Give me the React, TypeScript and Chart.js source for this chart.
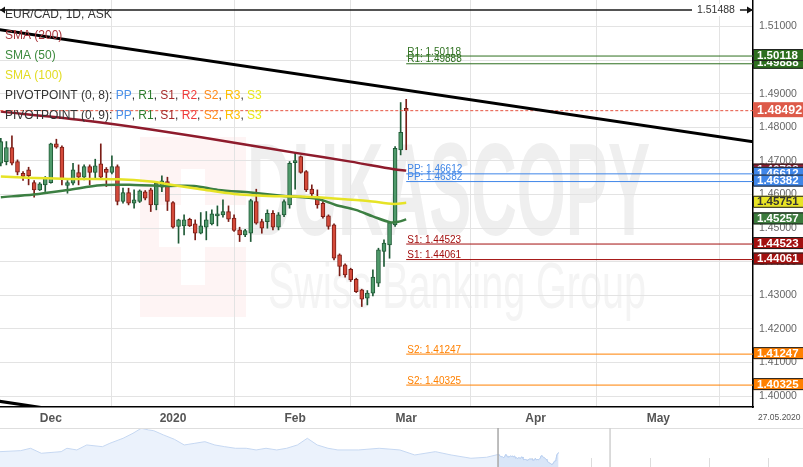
import React, { useEffect, useRef } from 'react';
import { Chart, registerables } from 'chart.js';
Chart.register(...registerables);

const FONT = '"Liberation Sans", Arial, sans-serif';

// ---- Daily candles (index 0 = 19 Nov 2019, index 73 = 2 Mar 2020)
const openPrices = [
  1.46928, 1.46978, 1.47395, 1.46978, 1.46631, 1.46730, 1.46353, 1.46135, 1.46284, 1.46353,
  1.47504, 1.47405, 1.46264, 1.46333, 1.46651, 1.46512, 1.46829, 1.46651, 1.46909, 1.46750,
  1.46651, 1.46829, 1.45788, 1.46056, 1.45738, 1.45788, 1.46076, 1.46135, 1.45688, 1.46214,
  1.46383, 1.45758, 1.45044, 1.45063, 1.45262, 1.45123, 1.44845, 1.45024, 1.45123, 1.45361,
  1.45391, 1.45490, 1.45292, 1.44944, 1.44796, 1.44845, 1.45788, 1.45192, 1.45192, 1.45440,
  1.45024, 1.45391, 1.45688, 1.46948, 1.47127, 1.46680, 1.46155, 1.45936, 1.45738, 1.45361,
  1.45093, 1.44200, 1.43903, 1.43774, 1.43476, 1.43159, 1.42911, 1.43060, 1.43357, 1.44300,
  1.44498, 1.45093, 1.47325, 1.48565,
];
const highPrices = [
  1.47672, 1.47573, 1.47742, 1.47028, 1.46680, 1.46809, 1.46413, 1.46353, 1.46532, 1.47524,
  1.47643, 1.47444, 1.46413, 1.46928, 1.46879, 1.46879, 1.46879, 1.47048, 1.47504, 1.46799,
  1.47147, 1.46879, 1.46185, 1.46185, 1.46135, 1.46135, 1.46115, 1.46185, 1.46383, 1.46552,
  1.46512, 1.45788, 1.45262, 1.45391, 1.45292, 1.45242, 1.45460, 1.45490, 1.45540, 1.45659,
  1.45837, 1.45659, 1.45391, 1.45024, 1.44964, 1.45857, 1.46155, 1.45262, 1.45540, 1.45520,
  1.45460, 1.45837, 1.46978, 1.47246, 1.47147, 1.46710, 1.46284, 1.46135, 1.45788, 1.45391,
  1.45123, 1.44230, 1.43933, 1.43804, 1.43506, 1.43179, 1.43139, 1.43754, 1.44399, 1.44647,
  1.45192, 1.47424, 1.48734, 1.48830,
];
const lowPrices = [
  1.46849, 1.46879, 1.46879, 1.46581, 1.46413, 1.46284, 1.45917, 1.46115, 1.46085, 1.46333,
  1.47375, 1.46284, 1.46036, 1.46284, 1.46284, 1.46432, 1.46284, 1.46482, 1.46452, 1.46234,
  1.46611, 1.45688, 1.45738, 1.45688, 1.45589, 1.45758, 1.45837, 1.45490, 1.45540, 1.46085,
  1.45520, 1.44994, 1.44548, 1.44796, 1.45044, 1.44647, 1.44825, 1.44647, 1.45093, 1.45063,
  1.45321, 1.45192, 1.44895, 1.44597, 1.44746, 1.44597, 1.45113, 1.44845, 1.44994, 1.44944,
  1.44944, 1.45341, 1.45589, 1.46155, 1.46631, 1.46085, 1.45887, 1.45589, 1.45292, 1.44964,
  1.44051, 1.43576, 1.43536, 1.43407, 1.43079, 1.42663, 1.42712, 1.42980, 1.43258, 1.43854,
  1.44101, 1.45044, 1.47176, 1.47330,
];
const closePrices = [
  1.47573, 1.47395, 1.46928, 1.46661, 1.46532, 1.46561, 1.46135, 1.46313, 1.46512, 1.47504,
  1.47405, 1.46452, 1.46353, 1.46730, 1.46512, 1.46829, 1.46651, 1.46849, 1.46512, 1.46651,
  1.46829, 1.45788, 1.46056, 1.45738, 1.45837, 1.46105, 1.45887, 1.45688, 1.46333, 1.46403,
  1.45788, 1.45024, 1.45242, 1.45242, 1.45063, 1.44845, 1.45063, 1.45242, 1.45421, 1.45421,
  1.45490, 1.45262, 1.44925, 1.44796, 1.44925, 1.45817, 1.45143, 1.44994, 1.45440, 1.45024,
  1.45391, 1.45788, 1.46928, 1.47008, 1.46651, 1.46135, 1.46016, 1.45688, 1.45341, 1.45044,
  1.44101, 1.43854, 1.43605, 1.43456, 1.43109, 1.42881, 1.43060, 1.43536, 1.44349, 1.44548,
  1.45163, 1.47375, 1.47851, 1.48492,
];

// ---- Moving averages (read at candle positions)
const sma200Idx = [0, 14.4, 27.6, 44.5, 52.8, 63.0, 70.8, 73];
const sma200Val = [1.48464, 1.48217, 1.47920, 1.47473, 1.47244, 1.46976, 1.46750, 1.46708];
const sma100Idx = [0, 5.9, 12.1, 21.1, 27.0, 31.2, 36.0, 42.0, 48.1, 54.0, 60.0, 66.1, 70.8, 73];
const sma100Val = [1.46530, 1.46491, 1.46461, 1.46452, 1.46381, 1.46274, 1.46155, 1.46015, 1.45955, 1.45935, 1.45878, 1.45807, 1.45717, 1.45751];
const sma50Idx = [0, 5.9, 12.1, 18.0, 24.0, 30.1, 34.8, 39.1, 45.0, 51.0, 57.1, 60.3, 63.9, 67.0, 70.2, 71.7, 73];
const sma50Val = [1.45917, 1.46000, 1.46134, 1.46274, 1.46283, 1.46253, 1.46253, 1.46134, 1.46054, 1.45955, 1.45866, 1.45687, 1.45539, 1.45345, 1.45167, 1.45190, 1.45257];

// ---- Pivot points
const pivotStartIdx = 73;
const pivotNames = ['R1', 'R1', 'PP', 'PP', 'S1', 'S1', 'S2', 'S2'];
const pivotValues = [1.50118, 1.49888, 1.46612, 1.46382, 1.44523, 1.44061, 1.41247, 1.40325];

// ---- Drawn objects
const lastPrice = 1.48492;
const horizontalLevel = 1.51488;
const trendIdx = [-1, 140];
const trendUpperVal = [1.50924, 1.47456];
const trendLowerVal = [1.39861, 1.36393];

// ---- Axes
const xMin = -0.15;
const xMax = 135.45;
const yMin = 1.39673;
const yMax = 1.51786;
const priceTicks = [1.40, 1.41, 1.42, 1.43, 1.44, 1.45, 1.46, 1.47, 1.48, 1.49, 1.50, 1.51];
const monthTickIdx = [9, 31, 53, 73, 96.3, 118.4];
const monthLabels = ['Dec', '2020', 'Feb', 'Mar', 'Apr', 'May'];
const endDateLabel = '27.05.2020';
const instrumentLabel = 'EUR/CAD, 1D, ASK';

// ---- Navigator history (trading-day index relative to index 0 above)
const navHistIdx = [-603, -578, -566, -553, -529, -522, -510, -498, -479, -470, -454, -442, -432, -423, -417, -405, -392, -380, -367, -355, -343, -331, -318, -305, -293, -281, -268, -256, -243, -231, -219, -206, -194, -169, -144, -119, -101, -76, -57, -33, -14];
const navHistVal = [1.4890, 1.4937, 1.5049, 1.4815, 1.4890, 1.5049, 1.4970, 1.5204, 1.5124, 1.5284, 1.5518, 1.5753, 1.5987, 1.5907, 1.5875, 1.5673, 1.5471, 1.5204, 1.5284, 1.5359, 1.5204, 1.5124, 1.5049, 1.5049, 1.4970, 1.5049, 1.4970, 1.5049, 1.5204, 1.5518, 1.5204, 1.5049, 1.4970, 1.4970, 1.5049, 1.4970, 1.4735, 1.4890, 1.4735, 1.4580, 1.4627];
const navXMin = -603;
const navXMax = 369;
const navYMin = 1.417;
const navYMax = 1.60;
const navTickIdx = [-530, -459, -387, -316, -245, -173, -102, -30, 41, 112, 184, 255, 327];

const COL = {
  upFill: '#4f9a6b', upLine: '#1f5a36',
  downFill: '#d44a3a', downLine: '#7a1d16',
  sma200: '#8e1b2c', sma50: '#3c7f42', sma100: '#e6e326',
  R1: '#2d6f1e', PP: '#3f86e8', S1: '#a3100f', S2: '#ff8000',
  grid: '#e3e3e3',
};
const pivotColor = (n: string) => (COL as any)[n];

function drawWatermark(ctx: CanvasRenderingContext2D) {
  ctx.save();
  // logo square with cross
  ctx.fillStyle = 'rgba(235,70,70,0.06)';
  ctx.fillRect(140, 137, 106, 180);
  ctx.fillStyle = '#ffffff';
  ctx.fillRect(181, 169, 24, 116);
  ctx.fillRect(159, 205, 87, 42);
  // DUKASCOPY
  ctx.fillStyle = '#efefef';
  ctx.font = `bold 132px ${FONT}`;
  ctx.textBaseline = 'alphabetic';
  const w = ctx.measureText('DUKASCOPY').width;
  ctx.translate(247, 235);
  ctx.scale(403 / w, 1);
  ctx.fillText('DUKASCOPY', 0, 0);
  ctx.restore();
  ctx.save();
  ctx.fillStyle = '#f4f4f4';
  ctx.font = `64px ${FONT}`;
  const w2 = ctx.measureText('Swiss Banking Group').width;
  ctx.translate(268, 308);
  ctx.scale(378 / w2, 1);
  ctx.fillText('Swiss Banking Group', 0, 0);
  ctx.restore();
}

const watermarkPlugin = {
  id: 'watermark',
  beforeDraw(chart: any) {
    drawWatermark(chart.ctx);
  },
};

const overlayPlugin = {
  id: 'overlay',
  afterDraw(chart: any) {
    const ctx: CanvasRenderingContext2D = chart.ctx;
    const xs = chart.scales.x;
    const ys = chart.scales.y;
    const area = chart.chartArea;
    ctx.save();

    // pivot labels
    ctx.font = `10px ${FONT}`;
    ctx.textAlign = 'left';
    ctx.textBaseline = 'alphabetic';
    const px0 = xs.getPixelForValue(pivotStartIdx);
    pivotValues.forEach((v, i) => {
      ctx.fillStyle = pivotColor(pivotNames[i]);
      ctx.fillText(`${pivotNames[i]}: ${v.toFixed(5)}`, px0 + 1, ys.getPixelForValue(v) - 1.5);
    });

    // horizontal level label + arrows
    const hy = ys.getPixelForValue(horizontalLevel);
    ctx.font = `10.5px ${FONT}`;
    const hl = horizontalLevel.toFixed(5);
    const hw = ctx.measureText(hl).width;
    const hx = area.right - 56;
    ctx.fillStyle = '#ffffff';
    ctx.fillRect(hx - 5, hy - 6, hw + 10, 12);
    ctx.fillStyle = '#333';
    ctx.textBaseline = 'middle';
    ctx.fillText(hl, hx, hy + 0.5);
    ctx.fillStyle = '#111';
    ctx.beginPath();
    ctx.moveTo(area.left, hy);
    ctx.lineTo(area.left + 5, hy - 3.5);
    ctx.lineTo(area.left + 5, hy + 3.5);
    ctx.closePath();
    ctx.fill();
    ctx.beginPath();
    ctx.moveTo(area.right, hy);
    ctx.lineTo(area.right - 6, hy - 3.5);
    ctx.lineTo(area.right - 6, hy + 3.5);
    ctx.closePath();
    ctx.fill();

    // right axis value boxes
    const boxes: { v: number; bg: string; fg: string; big?: boolean }[] = [];
    boxes.push({ v: pivotValues[1], bg: COL.R1, fg: '#fff' });
    boxes.push({ v: pivotValues[0], bg: COL.R1, fg: '#fff' });
    boxes.push({ v: lastPrice, bg: '#dd5a49', fg: '#fff', big: true });
    boxes.push({ v: sma200Val[sma200Val.length - 1], bg: COL.sma200, fg: '#fff' });
    boxes.push({ v: pivotValues[2], bg: COL.PP, fg: '#fff' });
    boxes.push({ v: pivotValues[3], bg: COL.PP, fg: '#fff' });
    boxes.push({ v: sma100Val[sma100Val.length - 1], bg: '#e8e425', fg: '#333' });
    boxes.push({ v: sma50Val[sma50Val.length - 1], bg: '#3b7b3c', fg: '#fff' });
    boxes.push({ v: pivotValues[4], bg: COL.S1, fg: '#fff' });
    boxes.push({ v: pivotValues[5], bg: COL.S1, fg: '#fff' });
    boxes.push({ v: pivotValues[6], bg: COL.S2, fg: '#fff' });
    boxes.push({ v: pivotValues[7], bg: COL.S2, fg: '#fff' });
    const bx = area.right;
    boxes.forEach((b) => {
      const cy = ys.getPixelForValue(b.v) - 1;
      const h = b.big ? 15 : 12;
      ctx.fillStyle = b.bg;
      ctx.fillRect(bx, cy - h / 2, 803 - bx, h);
      if (!b.big) {
        ctx.strokeStyle = '#222';
        ctx.lineWidth = 1;
        ctx.strokeRect(bx + 0.5, cy - h / 2 + 0.5, 803 - bx, h - 1);
      }
      ctx.fillStyle = b.fg;
      ctx.font = `bold ${b.big ? 12.5 : 11.5}px ${FONT}`;
      ctx.textBaseline = 'middle';
      ctx.fillText(b.v.toFixed(5), bx + 4, cy + 0.5);
    });

    // end date label
    ctx.fillStyle = '#555';
    ctx.font = `8.5px ${FONT}`;
    ctx.textBaseline = 'middle';
    ctx.fillText(endDateLabel, area.right + 5, area.bottom + 11);

    // legend
    ctx.textBaseline = 'middle';
    ctx.font = `12px ${FONT}`;
    const lx = 5;
    ctx.fillStyle = '#333';
    ctx.fillText(instrumentLabel, lx, 15);
    ctx.fillStyle = '#a8343a';
    ctx.fillText('SMA (200)', lx, 36);
    ctx.fillStyle = '#3d8a3d';
    ctx.fillText('SMA (50)', lx, 56);
    ctx.fillStyle = '#e2dc22';
    ctx.fillText('SMA (100)', lx, 76);
    const parts: [string, string][] = [
      ['PP', '#4a8fe8'], ['R1', '#2e7d2e'], ['S1', '#a52a2a'], ['R2', '#f03a3a'],
      ['S2', '#ff8a1a'], ['R3', '#ffbf00'], ['S3', '#e8e81a'],
    ];
    ['PIVOTPOINT (0, 8): ', 'PIVOTPOINT (0, 9): '].forEach((prefix, r) => {
      const yy = 96 + r * 20;
      let xx = lx;
      ctx.fillStyle = '#333';
      ctx.fillText(prefix, xx, yy);
      xx += ctx.measureText(prefix).width;
      parts.forEach(([t, c], k) => {
        ctx.fillStyle = c;
        ctx.fillText(t, xx, yy);
        xx += ctx.measureText(t).width;
        if (k < parts.length - 1) {
          ctx.fillStyle = '#333';
          ctx.fillText(', ', xx, yy);
          xx += ctx.measureText(', ').width;
        }
      });
    });
    ctx.restore();
  },
};

const navPlugin = {
  id: 'navDecor',
  beforeDatasetsDraw(chart: any) {
    const ctx: CanvasRenderingContext2D = chart.ctx;
    const xs = chart.scales.x;
    ctx.save();
    ctx.strokeStyle = '#dcdcdc';
    ctx.lineWidth = 1;
    navTickIdx.forEach((v) => {
      const px = Math.round(xs.getPixelForValue(v)) + 0.5;
      ctx.beginPath();
      ctx.moveTo(px, 30);
      ctx.lineTo(px, 39);
      ctx.stroke();
    });
    ctx.restore();
  },
  afterDraw(chart: any) {
    const ctx: CanvasRenderingContext2D = chart.ctx;
    const xs = chart.scales.x;
    ctx.save();
    ctx.strokeStyle = '#dedede';
    ctx.lineWidth = 1;
    ctx.beginPath();
    ctx.moveTo(0, 0.5);
    ctx.lineTo(803, 0.5);
    ctx.stroke();
    const l = xs.getPixelForValue(xMin);
    const r = xs.getPixelForValue(xMax);
    ctx.strokeStyle = '#a8a8a8';
    ctx.lineWidth = 1.5;
    ctx.beginPath();
    ctx.moveTo(l, 0);
    ctx.lineTo(l, 39);
    ctx.stroke();
    ctx.strokeStyle = '#d0d0d0';
    ctx.beginPath();
    ctx.moveTo(r, 0);
    ctx.lineTo(r, 39);
    ctx.stroke();
    ctx.restore();
  },
};

export default function App() {
  const mainRef = useRef<HTMLCanvasElement>(null);
  const navRef = useRef<HTMLCanvasElement>(null);

  useEffect(() => {
    const idx = openPrices.map((_, i) => i);
    const up = idx.filter((i) => closePrices[i] >= openPrices[i]);
    const down = idx.filter((i) => closePrices[i] < openPrices[i]);
    const lineDs = (xsArr: number[], ysArr: number[], color: string, width: number, extra: any = {}) => ({
      type: 'line',
      data: xsArr.map((x, i) => ({ x, y: ysArr[i] })),
      borderColor: color,
      borderWidth: width,
      pointRadius: 0,
      fill: false,
      tension: 0,
      order: 1,
      ...extra,
    });

    const datasets: any[] = [
      {
        type: 'bar', data: up.map((i) => ({ x: i, y: [lowPrices[i], highPrices[i]] })),
        backgroundColor: COL.upLine, borderWidth: 0, barThickness: 1, grouped: false, order: 4,
      },
      {
        type: 'bar', data: down.map((i) => ({ x: i, y: [lowPrices[i], highPrices[i]] })),
        backgroundColor: COL.downLine, borderWidth: 0, barThickness: 1, grouped: false, order: 4,
      },
      {
        type: 'bar', data: up.map((i) => ({ x: i, y: [openPrices[i], closePrices[i]] })),
        backgroundColor: COL.upFill, borderColor: COL.upLine, borderWidth: 1, borderSkipped: false,
        barThickness: 4, grouped: false, order: 3,
      },
      {
        type: 'bar', data: down.map((i) => ({ x: i, y: [openPrices[i], closePrices[i]] })),
        backgroundColor: COL.downFill, borderColor: COL.downLine, borderWidth: 1, borderSkipped: false,
        barThickness: 4, grouped: false, order: 3,
      },
      lineDs(sma200Idx, sma200Val, COL.sma200, 2.5, { tension: 0.3 }),
      lineDs(sma100Idx, sma100Val, COL.sma100, 2.5, { tension: 0.3 }),
      lineDs(sma50Idx, sma50Val, COL.sma50, 2.5, { tension: 0.3 }),
      ...pivotValues.map((v, i) =>
        lineDs([pivotStartIdx, 140], [v, v], pivotColor(pivotNames[i]), 1, { order: 2 })
      ),
      lineDs(trendIdx, trendUpperVal, '#000', 3, { order: 0 }),
      lineDs(trendIdx, trendLowerVal, '#000', 3, { order: 0 }),
      lineDs([-1, 140], [horizontalLevel, horizontalLevel], '#1a1a1a', 1.5, { order: 0 }),
      lineDs([-1, 140], [lastPrice, lastPrice], '#e5533f', 1, { order: 0, borderDash: [3, 2] }),
    ];

    const main = new Chart(mainRef.current as HTMLCanvasElement, {
      type: 'bar',
      data: { datasets },
      plugins: [watermarkPlugin, overlayPlugin],
      options: {
        responsive: false,
        animation: false,
        events: [],
        layout: { padding: 0 },
        plugins: { legend: { display: false }, tooltip: { enabled: false } },
        scales: {
          x: {
            type: 'linear', min: xMin, max: xMax, offset: false,
            grid: { color: COL.grid, drawTicks: false },
            border: { display: true, color: '#000', width: 1.5 },
            ticks: {
              autoSkip: false, maxRotation: 0, padding: 4, color: '#555',
              font: { size: 12, weight: 'bold', family: FONT },
              callback: (_v: any, i: number) => monthLabels[i],
            },
            afterBuildTicks: (s: any) => { s.ticks = monthTickIdx.map((v) => ({ value: v })); },
            afterFit: (s: any) => { s.height = 21; s.paddingLeft = 0; s.paddingRight = 0; },
          },
          y: {
            type: 'linear', position: 'right', min: yMin, max: yMax,
            grid: { color: COL.grid, drawTicks: false },
            border: { display: true, color: '#000', width: 1.5 },
            ticks: {
              padding: 6, color: '#666', font: { size: 10.5, family: FONT },
              callback: (v: any) => Number(v).toFixed(5),
            },
            afterBuildTicks: (s: any) => { s.ticks = priceTicks.map((v) => ({ value: v })); },
            afterFit: (s: any) => { s.width = 50; s.paddingTop = 0; s.paddingBottom = 0; },
          },
        },
      } as any,
    } as any);

    const navData = [
      ...navHistIdx.map((x, i) => ({ x, y: navHistVal[i] })),
      ...closePrices.map((c, i) => ({ x: i, y: c })),
    ];
    const nav = new Chart(navRef.current as HTMLCanvasElement, {
      type: 'line',
      data: {
        datasets: [
          {
            data: closePrices.map((c, i) => ({ x: i, y: c })),
            borderColor: '#b9cff0', borderWidth: 1, backgroundColor: '#d9e6f8',
            fill: 'start', pointRadius: 0, tension: 0, order: 0,
          },
          {
            data: navData,
            borderColor: '#c6d8f2', borderWidth: 1, backgroundColor: '#ebf2fc',
            fill: 'start', pointRadius: 0, tension: 0, order: 1,
          },
        ],
      },
      plugins: [navPlugin],
      options: {
        responsive: false,
        animation: false,
        events: [],
        layout: { padding: 0 },
        plugins: { legend: { display: false }, tooltip: { enabled: false } },
        scales: {
          x: { type: 'linear', min: navXMin, max: navXMax, display: false },
          y: { type: 'linear', min: navYMin, max: navYMax, display: false },
        },
      } as any,
    } as any);

    return () => {
      main.destroy();
      nav.destroy();
    };
  }, []);

  return (
    <div style={{ position: 'absolute', left: 0, top: 0, width: 803, height: 467, background: '#fff', overflow: 'hidden' }}>
      <canvas ref={mainRef} width={803} height={428} style={{ position: 'absolute', left: 0, top: 0 }} />
      <canvas ref={navRef} width={803} height={39} style={{ position: 'absolute', left: 0, top: 428 }} />
    </div>
  );
}
